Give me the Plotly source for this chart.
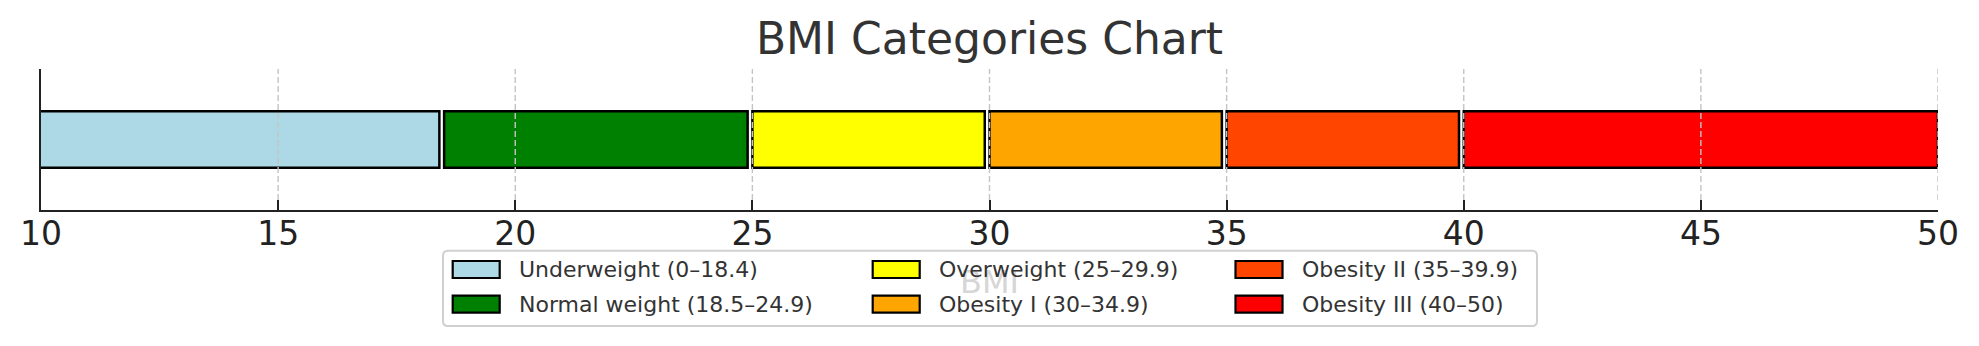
import plotly.graph_objects as go

# BMI categories and their ranges
categories = ["Underweight", "Normal weight", "Overweight", "Obesity I", "Obesity II", "Obesity III"]
range_labels = ["0–18.4", "18.5–24.9", "25–29.9", "30–34.9", "35–39.9", "40–50"]
bmi_low = [0, 18.5, 25, 30, 35, 40]
bmi_high = [18.4, 24.9, 29.9, 34.9, 39.9, 50]
colors = ["#ADD8E6", "#008000", "#FFFF00", "#FFA500", "#FF4500", "#FF0000"]
x_ticks = [10, 15, 20, 25, 30, 35, 40, 45, 50]

# Figure geometry (pixels)
W, H = 1979, 346
L, R, T, B = 41, 41, 69, 136
PW, PH = W - L - R, H - T - B
FONT = "DejaVu Sans"


def px_x(px):
    return (px - L) / PW


def px_y(py):
    return (H - B - py) / PH


fig = go.Figure()

# One horizontal bar per category, spanning its BMI range
for name, rl, lo, hi, col in zip(categories, range_labels, bmi_low, bmi_high, colors):
    fig.add_trace(go.Bar(
        y=[0], x=[hi - lo], base=[lo], orientation="h", width=0.8,
        marker=dict(color=col, line=dict(color="black", width=2.5)),
        name=f"{name} ({rl})", showlegend=False, hoverinfo="skip",
    ))

shapes = []
# Dashed vertical grid drawn over the bars
tick_len = 10
for t in x_ticks:
    if t == x_ticks[0]:
        continue
    shapes.append(dict(
        type="line", xref="x", yref="paper", x0=t, x1=t,
        y0=tick_len / PH, y1=1, layer="above",
        line=dict(color="#c4c4c4", width=1.4, dash="6px,3px"),
    ))

# Legend frame with rounded corners
lx0, lx1, ly0, ly1 = px_x(443), px_x(1537), px_y(326), px_y(250.7)
rx, ry = 5 / PW, 5 / PH
frame = (f"M {lx0+rx},{ly0} L {lx1-rx},{ly0} Q {lx1},{ly0} {lx1},{ly0+ry} "
         f"L {lx1},{ly1-ry} Q {lx1},{ly1} {lx1-rx},{ly1} L {lx0+rx},{ly1} "
         f"Q {lx0},{ly1} {lx0},{ly1-ry} L {lx0},{ly0+ry} Q {lx0},{ly0} {lx0+rx},{ly0} Z")
shapes.append(dict(type="path", xref="paper", yref="paper", path=frame,
                   fillcolor="rgba(255,255,255,0.8)",
                   line=dict(color="#d0d0d0", width=2), layer="above"))

annotations = []
# x-axis label sits behind the semi-transparent legend frame
annotations.append(dict(
    text="BMI", xref="paper", yref="paper", x=0.5, y=px_y(282),
    xanchor="center", yanchor="middle", showarrow=False,
    font=dict(family=FONT, size=32, color="#d6d6d6"),
))

# Legend entries: 3 columns x 2 rows, filled column by column
col_x = [452.7, 872.7, 1235.5]
row_y = [269.5, 304.2]
sw_w, sw_h = 47, 17
for i, (name, rl, col) in enumerate(zip(categories, range_labels, colors)):
    cx, ry_ = col_x[i // 2], row_y[i % 2]
    shapes.append(dict(
        type="rect", xref="paper", yref="paper",
        x0=px_x(cx), x1=px_x(cx + sw_w),
        y0=px_y(ry_ + sw_h / 2), y1=px_y(ry_ - sw_h / 2),
        fillcolor=col, line=dict(color="black", width=2.2), layer="above",
    ))
    annotations.append(dict(
        text=f"{name} ({rl})", xref="paper", yref="paper",
        x=px_x(cx + 64), y=px_y(ry_), xanchor="left", yanchor="middle",
        showarrow=False, font=dict(family=FONT, size=22, color="#333333"),
    ))

fig.update_layout(
    width=W, height=H,
    margin=dict(l=L, r=R, t=T, b=B, pad=0),
    paper_bgcolor="white", plot_bgcolor="white",
    barmode="overlay",
    font=dict(family=FONT, color="#222222"),
    title=dict(text="BMI Categories Chart", x=0.5, xref="paper", xanchor="center",
               y=1 - 38.5 / H, yref="container", yanchor="middle",
               font=dict(family=FONT, size=44, color="#333333")),
    xaxis=dict(range=[10, 50], tickvals=x_ticks, ticks="inside", ticklen=tick_len,
               tickwidth=2, tickcolor="#222222", showline=True, linecolor="#222222",
               linewidth=2, showgrid=False, zeroline=False, layer="above traces",
               tickfont=dict(family=FONT, size=33, color="#222222"),
               ticklabelstandoff=-7, fixedrange=True),
    yaxis=dict(range=[-1, 1], showticklabels=False, ticks="", showgrid=False,
               zeroline=False, showline=True, linecolor="#222222", linewidth=2,
               layer="above traces", fixedrange=True),
    shapes=shapes,
    annotations=annotations,
    showlegend=False,
)

fig.write_html("out.html")
